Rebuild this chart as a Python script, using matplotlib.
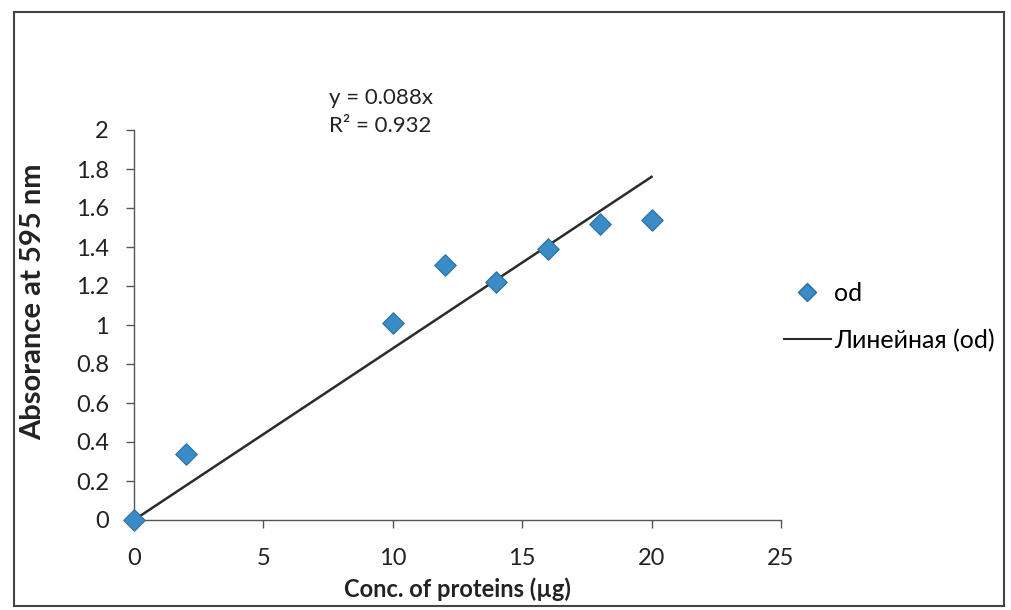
import matplotlib
matplotlib.use("Agg")
import matplotlib.pyplot as plt
from matplotlib.patches import Rectangle
from matplotlib.lines import Line2D

plt.rcParams['font.family'] = ['Lato', 'DejaVu Sans']

conc = [0, 2, 10, 12, 14, 16, 18, 20]
od = [0.0, 0.34, 1.01, 1.31, 1.22, 1.39, 1.52, 1.54]
slope = 0.088
r2 = 0.932
trend_x = [0, 20]
x_ticks = [0, 5, 10, 15, 20, 25]
y_ticks = [0, 0.2, 0.4, 0.6, 0.8, 1, 1.2, 1.4, 1.6, 1.8, 2]
y_labels = ['0', '0.2', '0.4', '0.6', '0.8', '1', '1.2', '1.4', '1.6', '1.8', '2']

fig = plt.figure(figsize=(10.11, 6.10), dpi=100)
fig.patches.append(Rectangle((14/1011, 1-606/610), (1004-14)/1011, (606-12)/610,
                             transform=fig.transFigure, fill=False,
                             edgecolor='#444444', linewidth=1.5))
ax = fig.add_axes([134/1011, 1-520/610, (781-134)/1011, (520-130)/610])

ax.plot(trend_x, [slope * x for x in trend_x], color='#2b2b2b', linewidth=1.8, zorder=2)
ax.scatter(conc, od, marker='D', s=120, color='#3a8cc6', edgecolors='#2a6f9e',
           linewidths=0.8, zorder=3, clip_on=False)

ax.set_xlim(0, 25)
ax.set_ylim(0, 2)
ax.set_xticks(x_ticks)
ax.set_xticklabels([str(t) for t in x_ticks])
ax.set_yticks(y_ticks)
ax.set_yticklabels(y_labels)
for s in ['top', 'right']:
    ax.spines[s].set_visible(False)
for s in ['left', 'bottom']:
    ax.spines[s].set_color('#555555')
    ax.spines[s].set_linewidth(1.0)
ax.tick_params(axis='x', direction='out', length=6, width=1, colors='#555555',
               labelcolor='#222222', labelsize=17, pad=14)
ax.tick_params(axis='y', direction='out', length=6, width=1, colors='#555555',
               labelcolor='#222222', labelsize=17, pad=12)
ax.set_xlabel('Conc. of proteins (µg)', fontsize=17, fontweight='bold', color='#222222', labelpad=6)
ax.set_ylabel('Absorance at 595 nm', fontsize=21, fontweight='bold', color='#222222')
ax.yaxis.set_label_coords((46-134)/647, (520-302)/390)

ax.text(0.302, 1.046, f'y = {slope}x\nR² = {r2}', transform=ax.transAxes,
        fontsize=16, color='#222222', va='center', ha='left', linespacing=1.45)

handles = [Line2D([], [], marker='D', linestyle='none', markersize=9.5,
                  markerfacecolor='#3a8cc6', markeredgecolor='#2a6f9e'),
           Line2D([], [], color='#2b2b2b', linewidth=1.5)]
fig.legend(handles, ['od', 'Линейная (od)'], loc='center left',
           bbox_to_anchor=(761/1011, 1-317/610), frameon=False, fontsize=18,
           handlelength=1.9, labelspacing=0.95, handletextpad=0.12)

fig.savefig('out.png', dpi=100)
